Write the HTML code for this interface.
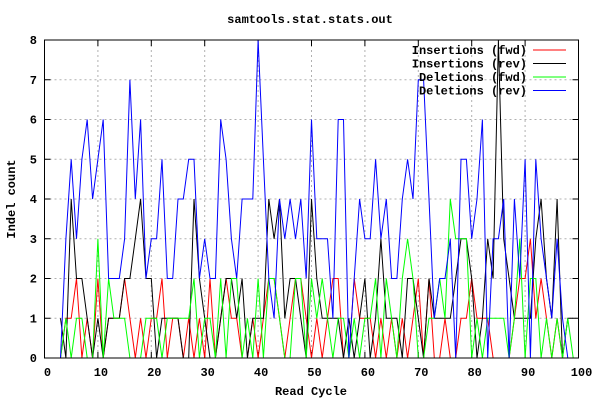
<!DOCTYPE html>
<html><head><meta charset="utf-8"><style>
body{margin:0;background:#fff;}
svg{display:block;font-family:"Liberation Mono",monospace;}
</style></head><body>
<svg id="chart" width="600" height="400" viewBox="0 0 600 400" xmlns="http://www.w3.org/2000/svg">
<text x="310" y="23" text-anchor="middle" font-size="12" font-weight="bold">samtools.stat.stats.out</text>
<text transform="translate(15,199) rotate(-90)" text-anchor="middle" font-size="12" font-weight="bold">Indel count</text>
<text x="311" y="395" text-anchor="middle" font-size="12" font-weight="bold">Read Cycle</text>
<g id="grid"></g><g id="series"></g><g id="legend"></g>
<rect x="44.5" y="40" width="534" height="318" fill="none" stroke="#000" stroke-width="1"/>
</svg>
<script>
const startCycle = 3;
const xTicks = [0,10,20,30,40,50,60,70,80,90,100];
const yTicks = [0,1,2,3,4,5,6,7,8];
const insFwd = [0,1,1,2,0,1,0,2,0,1,1,1,2,1,0,1,0,1,1,2,0,1,1,0,1,0,1,0,2,0,1,2,1,1,0,0,1,0,1,2,2,1,0,1,2,2,1,0,1,0,1,2,2,0,0,2,1,1,1,0,1,0,1,0,1,0,1,2,0,2,0,0,1,0,0,1,1,2,1,1,1,0,0,0,0,1,2,2,3,1,2,1,0,1,0,0,0];
const insRev = [1,0,4,2,2,1,0,1,0,1,1,1,2,2,3,4,2,2,0,1,1,1,1,0,0,4,2,1,0,0,1,2,2,1,2,0,1,1,1,4,3,4,1,2,2,1,0,4,2,1,1,1,1,0,1,0,1,2,0,1,3,1,1,1,0,2,2,1,0,2,1,1,1,1,2,3,3,2,0,1,3,2,8,3,2,1,1,1,1,3,4,2,1,4,0,1,1];
const delFwd = [0,1,0,1,1,0,0,3,0,2,1,1,1,0,0,0,1,1,1,0,1,1,1,1,1,2,0,1,1,0,2,0,2,2,0,1,0,2,0,2,2,1,0,0,2,2,0,2,1,2,1,0,1,1,0,1,0,1,1,2,0,2,1,0,2,3,2,0,0,1,1,2,1,4,3,3,3,0,1,0,1,1,1,1,0,1,3,0,2,2,0,1,0,1,0,1,0];
const delRev = [0,3,5,3,5,6,4,5,6,2,2,2,3,7,4,6,2,3,3,5,2,2,4,4,5,5,2,3,2,2,6,5,3,2,4,4,4,8,5,2,1,4,3,4,3,4,2,6,3,3,3,1,6,6,0,2,4,3,3,5,3,4,2,2,4,5,4,7,7,4,1,2,2,3,0,5,5,3,4,6,0,3,3,4,0,4,2,5,0,5,3,2,1,3,1,0,0];
const seriesNames = ["Insertions (fwd)","Insertions (rev)","Deletions (fwd)","Deletions (rev)"];
const seriesColors = ["#ff0000","#000000","#00ff00","#0000ff"];
const allSeries = [insFwd, insRev, delFwd, delRev];

const X0=44.5, XS=5.34, Y0=358, YS=39.75;
function xs(v){return X0+v*XS;}
function ys(v){return Y0-v*YS;}
const NS="http://www.w3.org/2000/svg";
function mk(tag,attrs,parent){const e=document.createElementNS(NS,tag);for(const k in attrs)e.setAttribute(k,attrs[k]);parent.appendChild(e);return e;}
const grid=document.getElementById('grid');
xTicks.forEach(t=>{
  const x=xs(t);
  if(t>0&&t<100){const g=mk('line',{x1:x,x2:x,y1:40,y2:358,stroke:'#b0b0b0','stroke-dasharray':'2,3'},grid);
  
  }
  mk('line',{x1:x,x2:x,y1:358,y2:352,stroke:'#000'},grid);
  mk('line',{x1:x,x2:x,y1:40,y2:46,stroke:'#000'},grid);
  const l=mk('text',{x:x+3,y:376,'text-anchor':'middle','font-size':'12','font-weight':'bold'},grid);
  l.textContent=t;
  
  
});
yTicks.forEach(t=>{
  const y=ys(t);
  if(t>0&&t<8){const g=mk('line',{x1:44.5,x2:578.5,y1:y,y2:y,stroke:'#b0b0b0','stroke-dasharray':'2,3'},grid);
  
  }
  mk('line',{x1:44.5,x2:50.5,y1:y,y2:y,stroke:'#000'},grid);
  mk('line',{x1:572.5,x2:578.5,y1:y,y2:y,stroke:'#000'},grid);
  const l=mk('text',{x:37,y:y+4,'text-anchor':'end','font-size':'12','font-weight':'bold'},grid);
  l.textContent=t;
  
  
});
const sg=document.getElementById('series');
allSeries.forEach((arr,i)=>{
  const pts=arr.map((v,j)=>xs(startCycle+j).toFixed(1)+','+ys(v).toFixed(1)).join(' ');
  const p=mk('polyline',{points:pts,fill:'none',stroke:seriesColors[i],'stroke-width':'1'},sg);
  
  
});
const lg=document.getElementById('legend');
seriesNames.forEach((n,i)=>{
  const y=50+i*13.5;
  const t=mk('text',{x:527,y:y+4,'text-anchor':'end','font-size':'12','font-weight':'bold'},lg);
  t.textContent=n;
  
  
  const l=mk('line',{x1:533,x2:566,y1:y,y2:y,stroke:seriesColors[i]},lg);
  
  
});
</script>
</body></html>
